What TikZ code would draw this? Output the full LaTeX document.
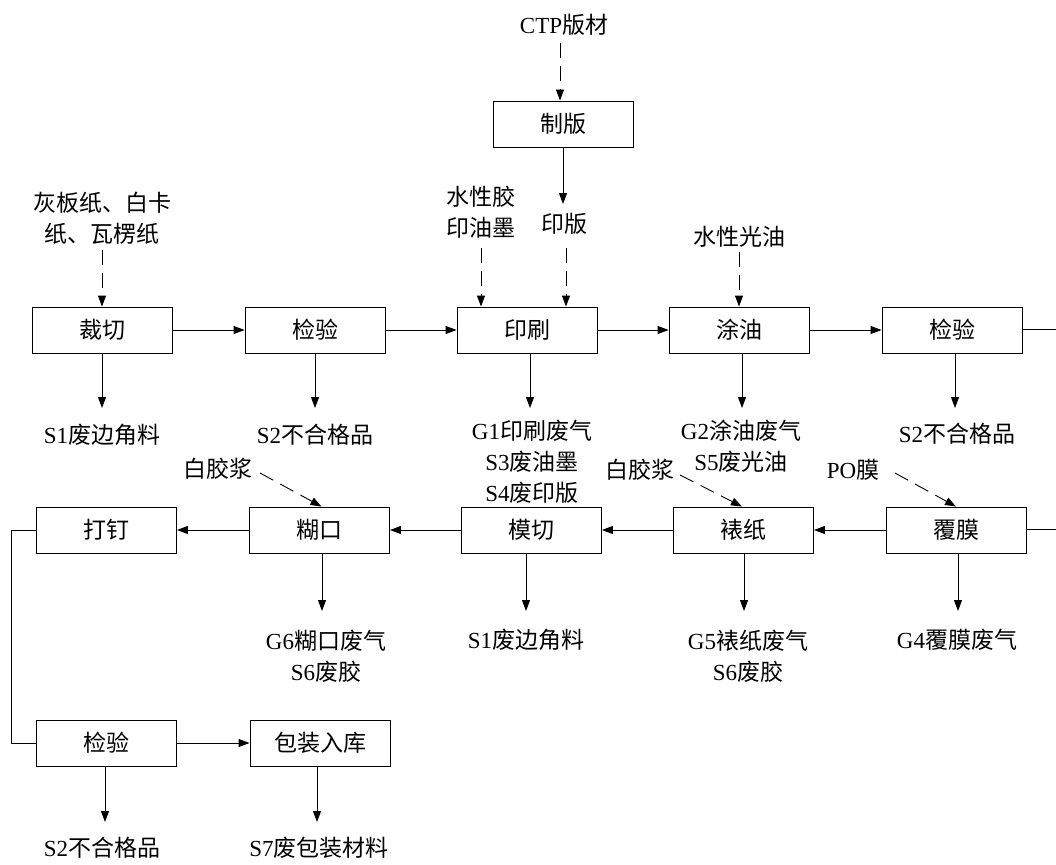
\documentclass[tikz,border=0pt]{standalone}
\usepackage{fontspec}
\setmainfont{Liberation Serif}
\newfontfamily\zhfont{Noto Sans CJK SC}
\usetikzlibrary{arrows.meta}
\newcommand{\zh}[1]{{\zhfont #1}}
\newcommand{\fsz}{\fontsize{23}{31}\selectfont}
\begin{document}
\begin{tikzpicture}[x=1pt,y=-1pt,
  pbox/.style={draw,line width=0.9pt,minimum width=140pt,minimum height=46pt,inner sep=0pt,font=\fsz\zhfont},
  lbl/.style={font=\fsz,align=center,inner sep=0pt},
  arr/.style={line width=0.9pt,-{Triangle[length=11pt,width=8pt]}},
  darr/.style={arr,dash pattern=on 15pt off 8pt},
  ln/.style={line width=0.9pt}]
\useasboundingbox (0,0) rectangle (1056,864);

% boxes
\node[pbox] (plate) at (563,124) {制版};
\node[pbox] (cut)   at (102.5,330) {裁切};
\node[pbox] (insp1) at (315,330) {检验};
\node[pbox] (print) at (527,330) {印刷};
\node[pbox] (coat)  at (739,330) {涂油};
\node[pbox] (insp2) at (952,330) {检验};
\node[pbox] (film)  at (956,530) {覆膜};
\node[pbox] (mount) at (743.5,530) {裱纸};
\node[pbox] (die)   at (531.5,530) {模切};
\node[pbox] (glue)  at (319.5,530) {糊口};
\node[pbox] (nail)  at (106.5,530) {打钉};
\node[pbox] (insp3) at (106.5,743) {检验};
\node[pbox] (pack)  at (320,743) {包装入库};

% input labels
\node[lbl] (ctp)   at (564,25) {CTP\zh{版材}};
\node[lbl] (yb)    at (564,224) {\zh{印版}};
\node[lbl] (ink)   at (481,212) {\zh{水性胶}\\\zh{印油墨}};
\node[lbl] (paper) at (102,218) {\zh{灰板纸、白卡}\\\zh{纸、瓦楞纸}};
\node[lbl] (varn)  at (739,237) {\zh{水性光油}};
\node[lbl] (gluA)  at (218,469) {\zh{白胶浆}};
\node[lbl] (gluB)  at (640,470) {\zh{白胶浆}};
\node[lbl] (po)    at (853,470) {PO\zh{膜}};

% output labels
\node[lbl] (o1) at (102,435) {S1\zh{废边角料}};
\node[lbl] (o2) at (315,435) {S2\zh{不合格品}};
\node[lbl] (o3) at (532,462) {G1\zh{印刷废气}\\S3\zh{废油墨}\\S4\zh{废印版}};
\node[lbl] (o4) at (741,446) {G2\zh{涂油废气}\\S5\zh{废光油}};
\node[lbl] (o5) at (957,434) {S2\zh{不合格品}};
\node[lbl] (o6) at (326,656) {G6\zh{糊口废气}\\S6\zh{废胶}};
\node[lbl] (o7) at (526,640) {S1\zh{废边角料}};
\node[lbl] (o8) at (748,656) {G5\zh{裱纸废气}\\S6\zh{废胶}};
\node[lbl] (o9) at (957,640) {G4\zh{覆膜废气}};
\node[lbl] (o10) at (102,848) {S2\zh{不合格品}};
\node[lbl] (o11) at (319,848) {S7\zh{废包装材料}};

% coordinates for free ends
\coordinate (c0) at (560,43);
\coordinate (c1) at (563,204);
\coordinate (c2) at (566,248);
\coordinate (c3) at (481,248);
\coordinate (c4) at (102,250);
\coordinate (c5) at (739,252);
\coordinate (d1) at (260,473);
\coordinate (d2) at (680,475);
\coordinate (d3) at (895,473);
\coordinate (t1) at (102,408);
\coordinate (t2) at (315,408);
\coordinate (t3) at (530,408);
\coordinate (t4) at (742,408);
\coordinate (t5) at (955,408);
\coordinate (t6) at (322,611);
\coordinate (t7) at (526,611);
\coordinate (t8) at (744,611);
\coordinate (t9) at (958,611);
\coordinate (t10) at (105,822);
\coordinate (t11) at (317,822);
\coordinate (r1) at (1056,329);
\coordinate (r2) at (1056,529);

% top inputs
\draw[darr] (c0) -- (c0 |- plate.north);
\draw[arr] (plate.south -| c1) -- (c1);
\draw[darr] (c2) -- (c2 |- print.north);
\draw[darr] (c3) -- (c3 |- print.north);
\draw[darr] (c4) -- (c4 |- cut.north);
\draw[darr] (c5) -- (c5 |- coat.north);
\draw[darr] (d1) -- ([xshift=2pt]glue.north);
\draw[darr] (d2) -- ([xshift=-1.5pt]mount.north);
\draw[darr] (d3) -- (film.north);

% main flow
\draw[arr] (cut) -- (insp1);
\draw[arr] (insp1) -- (print);
\draw[arr] (print) -- (coat);
\draw[arr] (coat) -- (insp2);
\draw[ln] (insp2.east |- r1) -- (r1);
\draw[ln] (film.east |- r2) -- (r2);
\draw[arr] (film) -- (mount);
\draw[arr] (mount) -- (die);
\draw[arr] (die) -- (glue);
\draw[arr] (glue) -- (nail);
\draw[ln] (nail.west) -- ++(-25,0) |- (insp3.west);
\draw[arr] (insp3) -- (pack);

% outputs
\draw[arr] (cut.south -| t1) -- (t1);
\draw[arr] (insp1.south -| t2) -- (t2);
\draw[arr] (print.south -| t3) -- (t3);
\draw[arr] (coat.south -| t4) -- (t4);
\draw[arr] (insp2.south -| t5) -- (t5);
\draw[arr] (glue.south -| t6) -- (t6);
\draw[arr] (die.south -| t7) -- (t7);
\draw[arr] (mount.south -| t8) -- (t8);
\draw[arr] (film.south -| t9) -- (t9);
\draw[arr] (insp3.south -| t10) -- (t10);
\draw[arr] (pack.south -| t11) -- (t11);
\end{tikzpicture}
\end{document}
